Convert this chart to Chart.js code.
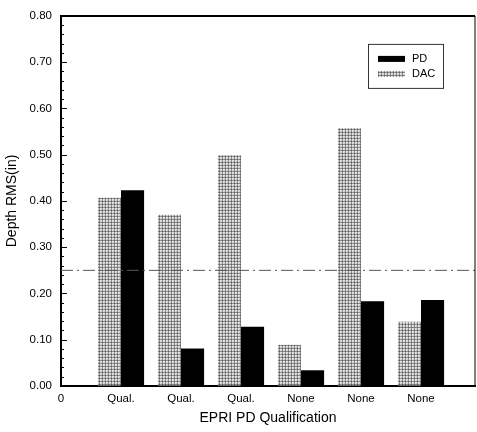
<!DOCTYPE html>
<html>
<head>
<meta charset="utf-8">
<script src="https://cdn.jsdelivr.net/npm/chart.js@4.4.0/dist/chart.umd.min.js"></script>
<style>
  html, body { margin: 0; padding: 0; background: #fff; }
</style>
</head>
<body>
<canvas id="bar-chart" width="477" height="432"></canvas>
<script>
// data
var groupPos = [1, 2, 3, 4, 5, 6];
var tickLabels = ['0', 'Qual.', 'Qual.', 'Qual.', 'None', 'None', 'None'];
var dacValues = [0.407, 0.370, 0.499, 0.089, 0.557, 0.139];
var pdValues = [0.423, 0.081, 0.128, 0.034, 0.183, 0.186];
var refLine = 0.25;

Chart.defaults.font.family = "'Liberation Sans', Arial, sans-serif";
Chart.defaults.color = '#000';

// stipple fill for the DAC bars
function makeStipple() {
  var c = document.createElement('canvas');
  c.width = 3; c.height = 3;
  var ctx = c.getContext('2d');
  ctx.fillStyle = '#e4e4e4';
  ctx.fillRect(0, 0, 3, 3);
  ctx.fillStyle = '#8c8c8c';
  ctx.fillRect(0, 0, 3, 1);
  ctx.fillRect(0, 0, 1, 3);
  ctx.fillStyle = '#5e5e5e';
  ctx.fillRect(0, 0, 1, 1);
  ctx.fillStyle = '#c4c4c4';
  ctx.fillRect(2, 2, 1, 1);
  return ctx.createPattern(c, 'repeat');
}
var stipple = makeStipple();

// frame, inward ticks, dashed reference line and boxed legend
var extras = {
  id: 'extras',
  afterDatasetsDraw: function(chart) {
    var ctx = chart.ctx;
    var a = chart.chartArea;
    var y = chart.scales.y;
    ctx.save();

    // dash-dot line at refLine
    var ry = y.getPixelForValue(refLine);
    ctx.strokeStyle = '#555';
    ctx.lineWidth = 1;
    ctx.setLineDash([12, 4, 2, 4]);
    ctx.beginPath();
    ctx.moveTo(a.left, ry);
    ctx.lineTo(a.right, ry);
    ctx.stroke();
    ctx.setLineDash([]);

    // top and right frame
    ctx.strokeStyle = '#000';
    ctx.lineWidth = 2;
    ctx.beginPath();
    ctx.moveTo(a.left, a.top);
    ctx.lineTo(a.right, a.top);
    ctx.stroke();
    ctx.lineWidth = 1;
    ctx.beginPath();
    ctx.moveTo(a.right, a.top);
    ctx.lineTo(a.right, a.bottom);
    ctx.stroke();

    // minor/major ticks pointing into the plot
    ctx.lineWidth = 1;
    for (var i = 0; i <= 40; i++) {
      var ty = Math.round(y.getPixelForValue(i * 0.02)) + 0.5;
      var len = (i % 5 === 0) ? 6 : 3;
      ctx.beginPath();
      ctx.moveTo(a.left, ty);
      ctx.lineTo(a.left + len, ty);
      ctx.stroke();
    }

    // legend box (PD first, then DAC)
    var bx = a.right - 107, by = a.top + 28, bw = 75, bh = 44;
    ctx.fillStyle = '#fff';
    ctx.fillRect(bx, by, bw, bh);
    ctx.strokeStyle = '#333';
    ctx.lineWidth = 1;
    ctx.strokeRect(bx + 0.5, by + 0.5, bw, bh);
    var items = [chart.data.datasets[1], chart.data.datasets[0]];
    ctx.font = "11px 'Liberation Sans', Arial, sans-serif";
    ctx.textBaseline = 'middle';
    items.forEach(function(ds, k) {
      var cy = by + 15 + k * 15;
      ctx.fillStyle = ds.backgroundColor;
      ctx.fillRect(bx + 10, cy - 3, 27, 6);
      ctx.fillStyle = '#000';
      ctx.fillText(ds.label, bx + 44, cy);
    });

    ctx.restore();
  }
};

new Chart(document.getElementById('bar-chart'), {
  type: 'bar',
  data: {
    datasets: [{
      label: 'DAC',
      data: groupPos.map(function(x, i) { return { x: x, y: dacValues[i] }; }),
      backgroundColor: stipple,
      borderWidth: 0,
      barPercentage: 1,
      categoryPercentage: 0.77
    }, {
      label: 'PD',
      data: groupPos.map(function(x, i) { return { x: x, y: pdValues[i] }; }),
      backgroundColor: '#000',
      borderWidth: 0,
      barPercentage: 1,
      categoryPercentage: 0.77
    }]
  },
  options: {
    responsive: false,
    animation: false,
    layout: {
      padding: { top: 11, right: 2, left: 0, bottom: 0 }
    },
    plugins: {
      legend: { display: false },
      tooltip: { enabled: false }
    },
    scales: {
      x: {
        type: 'linear',
        min: 0,
        max: 6.9,
        offset: false,
        grid: { drawOnChartArea: false, drawTicks: false, offset: false },
        border: { display: true, color: '#000', width: 2 },
        afterBuildTicks: function(scale) {
          scale.ticks = tickLabels.map(function(l, i) { return { value: i }; });
        },
        afterFit: function(scale) { scale.height = 46; },
        ticks: {
          autoSkip: false,
          maxRotation: 0,
          padding: 6,
          font: { size: 11.5 },
          callback: function(v) { return tickLabels[v]; }
        },
        title: {
          display: true,
          text: 'EPRI PD Qualification',
          font: { size: 14 },
          padding: { top: 0, bottom: 5 }
        }
      },
      y: {
        min: 0,
        max: 0.8,
        grid: { drawOnChartArea: false, drawTicks: false },
        border: { display: true, color: '#000', width: 2 },
        afterFit: function(scale) { scale.width = 61; },
        ticks: {
          stepSize: 0.1,
          padding: 9,
          font: { size: 11.5 },
          callback: function(v) { return v.toFixed(2); }
        },
        title: {
          display: true,
          text: 'Depth RMS(in)',
          font: { size: 14 },
          padding: { top: 4, bottom: 0 }
        }
      }
    }
  },
  plugins: [extras]
});
</script>
</body>
</html>
